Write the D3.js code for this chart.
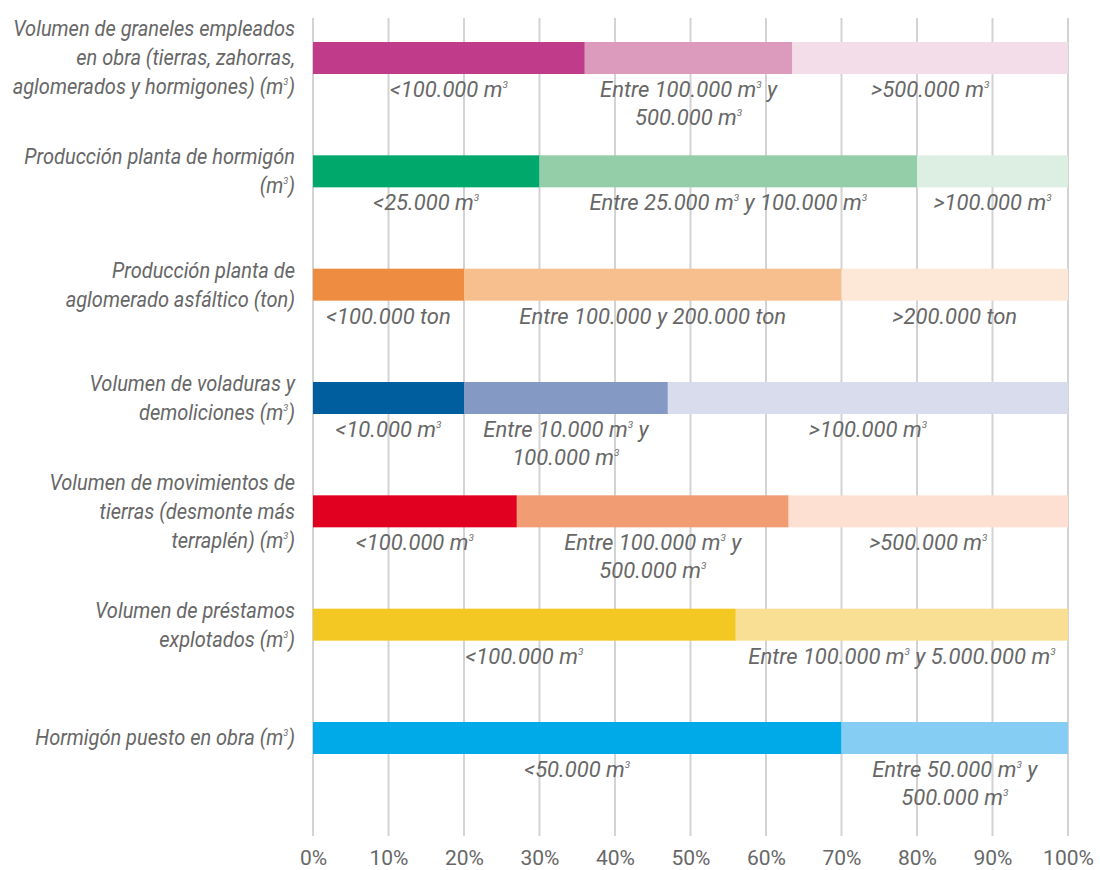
<!DOCTYPE html>
<html><head><meta charset="utf-8">
<script src="https://cdn.jsdelivr.net/npm/d3@7"></script>
<style>
body{margin:0;background:#fff;}
text{font-family:"Roboto",sans-serif;fill:#676767;}
</style></head>
<body><svg id="c" width="1100" height="870"></svg>
<script>
const categories = [
  "Volumen de graneles empleados\nen obra (tierras, zahorras,\naglomerados y hormigones) (m³)",
  "Producción planta de hormigón\n(m³)",
  "Producción planta de\naglomerado asfáltico (ton)",
  "Volumen de voladuras y\ndemoliciones (m³)",
  "Volumen de movimientos de\ntierras (desmonte más\nterraplén) (m³)",
  "Volumen de préstamos\nexplotados (m³)",
  "Hormigón puesto en obra (m³)"
];
const shares = [
  [36, 27.5, 36.5],
  [30, 50, 20],
  [20, 50, 30],
  [20, 27, 53],
  [27, 36, 37],
  [56, 44],
  [70, 30]
];
const segmentLabels = [
  ["<100.000 m³", "Entre 100.000 m³ y\n500.000 m³", ">500.000 m³"],
  ["<25.000 m³", "Entre 25.000 m³ y 100.000 m³", ">100.000 m³"],
  ["<100.000 ton", "Entre 100.000  y 200.000 ton", ">200.000 ton"],
  ["<10.000 m³", "Entre 10.000 m³ y\n100.000 m³", ">100.000 m³"],
  ["<100.000 m³", "Entre 100.000 m³ y\n500.000 m³", ">500.000 m³"],
  ["<100.000 m³", "Entre 100.000 m³ y 5.000.000 m³"],
  ["<50.000 m³", "Entre 50.000 m³ y\n500.000 m³"]
];
const tickValues = [0,10,20,30,40,50,60,70,80,90,100];
const palette = [
  ["#c03b8a","#dc9bbd","#f3dde9"],
  ["#00a86b","#93cea8","#ddeee2"],
  ["#ee8c41","#f7bf8e","#fde8d8"],
  ["#005e9f","#8599c5","#d8dcec"],
  ["#e10020","#f29c74","#fde0d2"],
  ["#f4c823","#f9df94"],
  ["#00a9e8","#86cdf4"]
];

const svg = d3.select("#c");
const x = d3.scaleLinear().domain([0,100]).range([313,1068]);
const y = d3.scalePoint().domain(d3.range(categories.length)).range([58,738]);
const barH = 32;
const FS = 22;

// grid
svg.append("g").selectAll("line").data(tickValues).join("line")
  .attr("x1",d=>x(d)).attr("x2",d=>x(d)).attr("y1",18).attr("y2",836)
  .attr("stroke","#d3d3d3").attr("stroke-width",2);

// axis labels
const ax = svg.append("g").attr("transform","translate(0,858)")
  .call(d3.axisBottom(x).tickValues(tickValues).tickSize(0).tickPadding(0).tickFormat(d=>d+"%"));
ax.select(".domain").remove();
ax.selectAll("text").attr("font-size",21).attr("dy","0.35em").attr("y",0)
  .style("font-family",'"Roboto",sans-serif').attr("fill","#676767");

function writeRich(sel, str, size){
  const parts = str.split("³");
  const up = size*0.22;
  parts.forEach((p,i)=>{
    const t = sel.append("tspan").text(p);
    if(i>0) t.attr("dy", up);
    if(i<parts.length-1){
      sel.append("tspan").text("3").attr("font-size",size*0.45).attr("dy",-up);
    }
  });
}

// bars
shares.forEach((row,i)=>{
  let acc = 0;
  const segs = row.map((v,j)=>{const s={x0:acc,x1:acc+v,c:palette[i][j],label:segmentLabels[i][j]}; acc+=v; return s;});
  const g = svg.append("g");
  g.selectAll("rect").data(segs).join("rect")
    .attr("x",d=>x(d.x0)).attr("width",d=>x(d.x1)-x(d.x0))
    .attr("y",y(i)-barH/2).attr("height",barH).attr("fill",d=>d.c);
  segs.forEach(d=>{
    const lines = d.label.split("\n");
    lines.forEach((ln,k)=>{
      const t = g.append("text").attr("x",(x(d.x0)+x(d.x1))/2).attr("y",y(i)+31+k*28)
        .attr("text-anchor","middle").attr("dominant-baseline","central")
        .attr("font-size",FS).attr("font-style","italic");
      writeRich(t, ln, FS);
    });
  });
  // category label
  const lines = categories[i].split("\n");
  const n = lines.length;
  lines.forEach((ln,k)=>{
    const t = svg.append("text")
      .attr("transform",`translate(295,${y(i)-1+(k-(n-1)/2)*29}) scale(0.91,1)`)
      .attr("text-anchor","end").attr("dominant-baseline","central")
      .attr("font-size",FS).attr("font-style","italic");
    writeRich(t, ln, FS);
  });
});
</script></body></html>
